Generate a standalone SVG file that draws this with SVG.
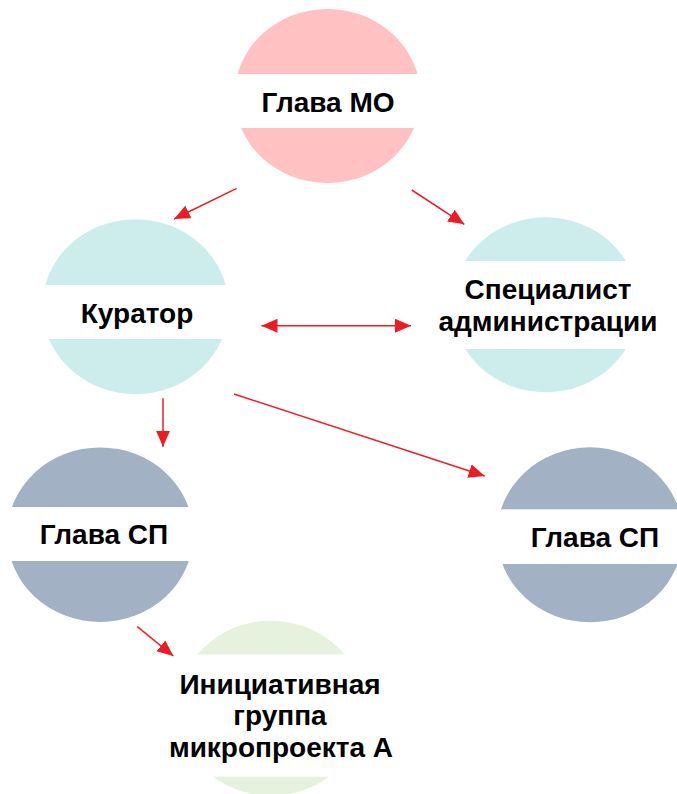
<svg xmlns="http://www.w3.org/2000/svg" width="677" height="794" viewBox="0 0 677 794">
<style>
.band{fill:#ffffff}
.lbl{font-family:"Liberation Sans",Arial,sans-serif;font-weight:bold;font-size:28px;fill:#000;text-anchor:middle}
.conn{stroke:#ED1C24;stroke-width:1.5;fill:none}
.pink{fill:#FFC1C1}
.cyan{fill:#CDEDEC}
.slate{fill:#A3B1C5}
.green{fill:#E6F1DE}
</style>
<defs>
<marker id="ah" markerUnits="userSpaceOnUse" markerWidth="17" markerHeight="15" refX="16" refY="7" orient="auto-start-reverse" viewBox="0 0 17 15">
<path d="M0,0 L16,7 L0,14 z" fill="#ED1C24"/>
</marker>
</defs>
<rect width="677" height="794" fill="#ffffff"/>
<g id="node-glava-mo">
<ellipse class="pink" cx="327.5" cy="96" rx="93" ry="87"/>
<rect class="band" x="230" y="74" width="196" height="54"/>
<text class="lbl" x="328" y="112">Глава МО</text>
</g>
<g id="node-kurator">
<ellipse class="cyan" cx="135.5" cy="306.7" rx="93" ry="87.5"/>
<rect class="band" x="40" y="285" width="192" height="54"/>
<text class="lbl" x="137" y="323">Куратор</text>
</g>
<g id="node-specialist">
<ellipse class="cyan" cx="545.5" cy="304.8" rx="93" ry="87.5"/>
<rect class="band" x="450" y="261" width="192" height="88"/>
<text class="lbl" x="548" y="299">Специалист</text>
<text class="lbl" x="548" y="331">администрации</text>
</g>
<g id="node-glava-sp-left">
<ellipse class="slate" cx="100.2" cy="534.7" rx="93" ry="87.3"/>
<rect class="band" x="5" y="507" width="192" height="54"/>
<text class="lbl" x="104" y="544">Глава СП</text>
</g>
<g id="node-glava-sp-right">
<ellipse class="slate" cx="590" cy="534.8" rx="93" ry="87.5"/>
<rect class="band" x="495" y="509.3" width="182" height="54.7"/>
<text class="lbl" x="595" y="547">Глава СП</text>
</g>
<g id="node-initiative">
<ellipse class="green" cx="271" cy="708.2" rx="93" ry="87.5"/>
<rect class="band" x="170" y="654.3" width="202" height="122.4"/>
<text class="lbl" x="280" y="693.5">Инициативная</text>
<text class="lbl" x="280" y="725">группа</text>
<text class="lbl" x="281" y="756.7">микропроекта А</text>
</g>
<g id="connectors">
<line class="conn" x1="236.7" y1="188.3" x2="174" y2="219" marker-end="url(#ah)"/>
<line class="conn" x1="411.7" y1="190" x2="464.3" y2="224.3" marker-end="url(#ah)"/>
<line class="conn" x1="261.5" y1="325.7" x2="411" y2="325.7" marker-start="url(#ah)" marker-end="url(#ah)"/>
<line class="conn" x1="163" y1="398.3" x2="163" y2="446.7" marker-end="url(#ah)"/>
<line class="conn" x1="234" y1="394" x2="484.7" y2="476" marker-end="url(#ah)"/>
<line class="conn" x1="137.3" y1="626.7" x2="173.3" y2="656" marker-end="url(#ah)"/>
</g>
</svg>
